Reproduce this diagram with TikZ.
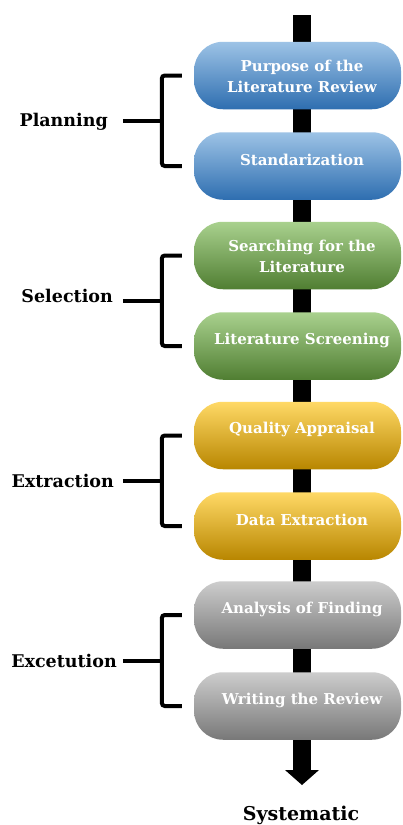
\documentclass[tikz,border=0pt]{standalone}
\usepackage{fontspec}
\setmainfont{DejaVu Serif}
\usetikzlibrary{calc}
\definecolor{bluetop}{RGB}{157,195,230}
\definecolor{bluemid}{RGB}{91,155,213}
\definecolor{bluebot}{RGB}{46,110,176}
\definecolor{greentop}{RGB}{169,209,142}
\definecolor{greenmid}{RGB}{112,173,71}
\definecolor{greenbot}{RGB}{80,126,50}
\definecolor{yeltop}{RGB}{255,217,102}
\definecolor{yelmid}{RGB}{255,192,0}
\definecolor{yelbot}{RGB}{184,134,0}
\definecolor{graytop}{RGB}{205,205,205}
\definecolor{graymid}{RGB}{165,165,165}
\definecolor{graybot}{RGB}{120,120,120}
\tikzset{
  stepbox/.style={rectangle, rounded corners=29pt, minimum width=207pt, minimum height=67.5pt, inner sep=0pt, draw=none},
  bluebox/.style={stepbox, top color=bluetop, middle color=bluemid, bottom color=bluebot},
  greenbox/.style={stepbox, top color=greentop, middle color=greenmid, bottom color=greenbot},
  yelbox/.style={stepbox, top color=yeltop, middle color=yelmid, bottom color=yelbot},
  graybox/.style={stepbox, top color=graytop, middle color=graymid, bottom color=graybot},
  steptext/.style={text=white, font=\fontsize{15}{21}\selectfont\bfseries, align=center, inner sep=0pt},
  phaselabel/.style={text=black, font=\fontsize{17.5}{20}\selectfont\bfseries, inner sep=0pt, anchor=base east},
  bracestyle/.style={line width=4pt, rounded corners=3pt},
}
\begin{document}
\begin{tikzpicture}[x=1pt,y=-1pt]
\clip (0,0) rectangle (403,825);
\fill[white] (0,0) rectangle (403,825);
% spine arrow
\coordinate (spinetop) at (302,15);
\coordinate (spinetip) at (302,785);
\fill ([xshift=-9pt]spinetop) rectangle ([xshift=9pt,yshift=14pt]spinetip);
\fill ([xshift=-17pt,yshift=15pt]spinetip) -- ([xshift=17pt,yshift=15pt]spinetip) -- (spinetip) -- cycle;
% boxes
\node[bluebox]  (b1) at (297.5,75.5) {};
\node[bluebox]  (b2) at (297.5,166) {};
\node[greenbox] (b3) at (297.5,255.5) {};
\node[greenbox] (b4) at (297.5,346) {};
\node[yelbox]   (b5) at (297.5,435.5) {};
\node[yelbox]   (b6) at (297.5,526) {};
\node[graybox]  (b7) at (297.5,615) {};
\node[graybox]  (b8) at (297.5,706) {};
% texts
\node[steptext] (t1) at ([xshift=4.5pt,yshift=-1pt]b1.center) {Purpose of the\\Literature Review};
\node[steptext] (t2) at ([xshift=4.5pt,yshift=6pt]b2.center) {Standarization};
\node[steptext] (t3) at ([xshift=4.5pt,yshift=-1pt]b3.center) {Searching for the\\Literature};
\node[steptext] (t4) at ([xshift=4.5pt,yshift=6pt]b4.center) {Literature Screening};
\node[steptext] (t5) at ([xshift=4.5pt,yshift=6pt]b5.center) {Quality Appraisal};
\node[steptext] (t6) at ([xshift=4.5pt,yshift=6pt]b6.center) {Data Extraction};
\node[steptext] (t7) at ([xshift=4.5pt,yshift=6pt]b7.center) {Analysis of Finding};
\node[steptext] (t8) at ([xshift=4.5pt,yshift=6pt]b8.center) {Writing the Review};
% braces
\foreach \a/\b in {b1/b2,b3/b4,b5/b6,b7/b8}{
  \draw[bracestyle] ([xshift=-12pt]\a.west) -- ([xshift=-32pt]\a.west) -- ([xshift=-32pt]\b.west) -- ([xshift=-12pt]\b.west);
  \draw[line width=4pt] ($(\a.west)!.5!(\b.west)+(-71,0)$) -- ($(\a.west)!.5!(\b.west)+(-32,0)$);
}
% labels
\node[phaselabel] (l1) at (108,126) {Planning};
\node[phaselabel] (l2) at (113,302) {Selection};
\node[phaselabel] (l3) at (114,487) {Extraction};
\node[phaselabel] (l4) at (117,667) {Excetution};
\node[font=\fontsize{19}{22}\selectfont\bfseries, inner sep=0pt, anchor=base] (sys) at (301,820) {Systematic};
\end{tikzpicture}
\end{document}
